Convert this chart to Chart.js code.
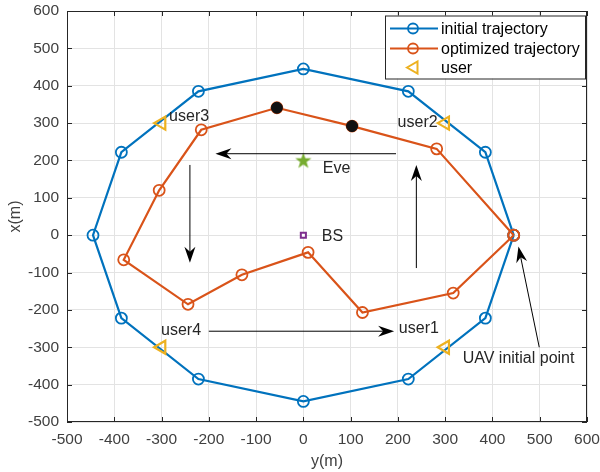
<!DOCTYPE html>
<html>
<head>
<meta charset="utf-8">
<script src="https://cdn.jsdelivr.net/npm/chart.js@4/dist/chart.umd.min.js"></script>
<style>
html,body{margin:0;padding:0;background:#fff;}
#wrap{width:600px;height:472px;position:relative;}
</style>
</head>
<body>
<div id="wrap"><canvas id="c" width="600" height="472"></canvas></div>
<script>
// ---- data (horizontal axis = y(m), vertical axis = x(m)) ----
const axisMin = -500;
const axisMax = 600;
const tickStep = 100;

const initH = [445, 385, 222, 0, -222, -385, -445, -385, -222, 0, 222, 385, 445];
const initV = [0, 222, 385, 445, 385, 222, 0, -222, -385, -445, -385, -222, 0];

const optH = [445, 282, 103, -56, -216, -305, -380, -244, -130, 10, 125, 317, 445];
const optV = [0, 231, 292, 341, 282, 120, -66, -185, -106, -46, -207, -155, 0];

const dotH = [103, -56];
const dotV = [292, 341];

const userH = [300, 300, -300, -300];
const userV = [-300, 300, 300, -300];

const eveH = [0];
const eveV = [200];
const bsH = [0];
const bsV = [0];

// annotation texts
const noteText = ['user3', 'user2', 'Eve', 'BS', 'user4', 'user1', 'UAV initial point'];
const noteH = [-284, 284, 41, 39, -301, 202, 337];
const noteV = [317, 302, 177, -5, -256, -251, -329];
const noteAlign = ['left', 'right', 'left', 'left', 'left', 'left', 'left'];

// arrows: from (h1,v1) to head at (h2,v2)
const arrowH1 = [196, -240, 239, -200, 499];
const arrowV1 = [218, 188, -88, -257, -300];
const arrowH2 = [-186, -240, 239, 192, 455];
const arrowV2 = [218, -74, 188, -257, -30];

const legendLabels = ['initial trajectory', 'optimized trajectory', 'user'];

// ---- styles ----
const BLUE = '#0072BD', ORANGE = '#D95319', YELLOW = '#EDB120', GREEN = '#77AC30', PURPLE = '#7E2F8E';
const FONT = '"Liberation Sans", Arial, Helvetica, sans-serif';
const AX = '#262626';

function pts(h, v) { return h.map((x, i) => ({x: x, y: v[i]})); }

// star marker image
const starImg = document.createElement('canvas');
starImg.width = 18; starImg.height = 18;
(function () {
  const g = starImg.getContext('2d');
  g.fillStyle = GREEN;
  g.beginPath();
  for (let i = 0; i < 10; i++) {
    const r = i % 2 === 0 ? 8.5 : 3.4;
    const a = -Math.PI / 2 + i * Math.PI / 5;
    const x = 9 + r * Math.cos(a), y = 9.5 + r * Math.sin(a);
    if (i === 0) g.moveTo(x, y); else g.lineTo(x, y);
  }
  g.closePath();
  g.fill();
})();

function drawArrowHead(ctx, x1, y1, x2, y2) {
  const ang = Math.atan2(y2 - y1, x2 - x1);
  const L = 16, W = 5.5, N = 11;
  ctx.save();
  ctx.translate(x2, y2);
  ctx.rotate(ang);
  ctx.beginPath();
  ctx.moveTo(0, 0);
  ctx.lineTo(-L, -W);
  ctx.lineTo(-N, 0);
  ctx.lineTo(-L, W);
  ctx.closePath();
  ctx.fillStyle = '#000';
  ctx.fill();
  ctx.restore();
}

const overlay = {
  id: 'overlay',
  beforeDatasetsDraw(chart) {
    const {ctx, chartArea: a, scales} = chart;
    const sx = scales.x, sy = scales.y;
    ctx.save();
    ctx.strokeStyle = AX;
    ctx.lineWidth = 1;
    ctx.strokeRect(a.left + 0.5, a.top + 0.5, a.right - a.left - 1, a.bottom - a.top - 1);
    ctx.beginPath();
    const tl = 5;
    for (let v = axisMin; v <= axisMax; v += tickStep) {
      const px = Math.round(sx.getPixelForValue(v)) + 0.5;
      ctx.moveTo(px, a.bottom); ctx.lineTo(px, a.bottom - tl);
      ctx.moveTo(px, a.top); ctx.lineTo(px, a.top + tl);
      const py = Math.round(sy.getPixelForValue(v)) + 0.5;
      ctx.moveTo(a.left, py); ctx.lineTo(a.left + tl, py);
      ctx.moveTo(a.right, py); ctx.lineTo(a.right - tl, py);
    }
    ctx.stroke();
    ctx.restore();
  },
  afterDatasetsDraw(chart) {
    const {ctx, chartArea: a, scales} = chart;
    const sx = scales.x, sy = scales.y;
    ctx.save();
    ctx.strokeStyle = '#000';
    ctx.lineWidth = 1;
    for (let i = 0; i < arrowH1.length; i++) {
      const x1 = sx.getPixelForValue(arrowH1[i]), y1 = sy.getPixelForValue(arrowV1[i]);
      const x2 = sx.getPixelForValue(arrowH2[i]), y2 = sy.getPixelForValue(arrowV2[i]);
      const ang = Math.atan2(y2 - y1, x2 - x1);
      ctx.beginPath();
      ctx.moveTo(x1, y1);
      ctx.lineTo(x2 - 10 * Math.cos(ang), y2 - 10 * Math.sin(ang));
      ctx.stroke();
      drawArrowHead(ctx, x1, y1, x2, y2);
    }
    ctx.fillStyle = '#262626';
    ctx.font = '16px ' + FONT;
    ctx.textBaseline = 'middle';
    for (let i = 0; i < noteText.length; i++) {
      ctx.textAlign = noteAlign[i];
      ctx.fillText(noteText[i], sx.getPixelForValue(noteH[i]), sy.getPixelForValue(noteV[i]));
    }
    // legend
    const lx = a.right - 202, ly = a.top + 4.5, lw = 200, lh = 63;
    ctx.fillStyle = '#fff';
    ctx.fillRect(lx, ly, lw, lh);
    ctx.strokeStyle = AX;
    ctx.lineWidth = 1;
    ctx.strokeRect(lx + 0.5, ly + 0.5, lw, lh);
    const rows = [ly + 13, ly + 33, ly + 52];
    const cols = [BLUE, ORANGE];
    for (let i = 0; i < 2; i++) {
      ctx.strokeStyle = cols[i];
      ctx.lineWidth = 2;
      ctx.beginPath();
      ctx.moveTo(lx + 5, rows[i]); ctx.lineTo(lx + 53, rows[i]);
      ctx.stroke();
      ctx.lineWidth = 1.8;
      ctx.beginPath();
      ctx.arc(lx + 28, rows[i], 5, 0, Math.PI * 2);
      ctx.stroke();
    }
    ctx.strokeStyle = YELLOW;
    ctx.lineWidth = 2;
    ctx.beginPath();
    const tx = lx + 28, ty = rows[2];
    ctx.moveTo(tx - 6, ty);
    ctx.lineTo(tx + 4.5, ty - 6);
    ctx.lineTo(tx + 4.5, ty + 6);
    ctx.closePath();
    ctx.stroke();
    ctx.fillStyle = '#000';
    ctx.font = '16px ' + FONT;
    ctx.textAlign = 'left';
    ctx.textBaseline = 'middle';
    for (let i = 0; i < 3; i++) ctx.fillText(legendLabels[i], lx + 56, rows[i] + 1);
    ctx.restore();
  }
};

new Chart(document.getElementById('c'), {
  type: 'scatter',
  data: {
    datasets: [
      {label: 'initial trajectory', data: pts(initH, initV), showLine: true, borderColor: BLUE,
       borderWidth: 2.2, pointStyle: 'circle', pointRadius: 5.5, pointBorderWidth: 1.8,
       pointBackgroundColor: 'rgba(0,0,0,0)', pointBorderColor: BLUE, order: 5},
      {label: 'optimized trajectory', data: pts(optH, optV), showLine: true, borderColor: ORANGE,
       borderWidth: 2.2, pointStyle: 'circle', pointRadius: 5.5, pointBorderWidth: 1.8,
       pointBackgroundColor: 'rgba(0,0,0,0)', pointBorderColor: ORANGE, order: 4},
      {label: 'dots', data: pts(dotH, dotV), pointStyle: 'circle', pointRadius: 5.5,
       pointBackgroundColor: '#111', pointBorderColor: '#111', pointBorderWidth: 1, order: 3},
      {label: 'user', data: pts(userH, userV), pointStyle: 'triangle', pointRotation: -90,
       pointRadius: 7.5, pointBorderWidth: 2.2, pointBackgroundColor: 'rgba(0,0,0,0)',
       pointBorderColor: YELLOW, order: 2},
      {label: 'Eve', data: pts(eveH, eveV), pointStyle: starImg, order: 1},
      {label: 'BS', data: pts(bsH, bsV), pointStyle: 'rect', pointRadius: 3.6, pointBorderWidth: 2,
       pointBackgroundColor: '#fff', pointBorderColor: PURPLE, order: 1}
    ]
  },
  options: {
    responsive: false,
    animation: false,
    events: [],
    layout: {padding: {top: 11, right: 13, bottom: 0, left: 0}},
    plugins: {legend: {display: false}, tooltip: {enabled: false}},
    scales: {
      x: {
        type: 'linear', min: axisMin, max: axisMax,
        ticks: {stepSize: tickStep, color: '#404040', font: {family: FONT, size: 15.5}, padding: 8, maxRotation: 0},
        grid: {color: '#e3e3e3', drawTicks: false},
        border: {display: false},
        title: {display: true, text: 'y(m)', color: '#404040', font: {family: FONT, size: 16}, padding: {top: 0, bottom: 1}},
        afterFit(s) { s.height = 50; s.paddingLeft = 0; s.paddingRight = 0; }
      },
      y: {
        type: 'linear', min: axisMin, max: axisMax,
        ticks: {stepSize: tickStep, color: '#404040', font: {family: FONT, size: 15.5}, padding: 8},
        grid: {color: '#e3e3e3', drawTicks: false},
        border: {display: false},
        title: {display: true, text: 'x(m)', color: '#404040', font: {family: FONT, size: 16}, padding: {top: 6, bottom: 0}},
        afterFit(s) { s.width = 67; s.paddingTop = 0; s.paddingBottom = 0; }
      }
    }
  },
  plugins: [overlay]
});
</script>
</body>
</html>
